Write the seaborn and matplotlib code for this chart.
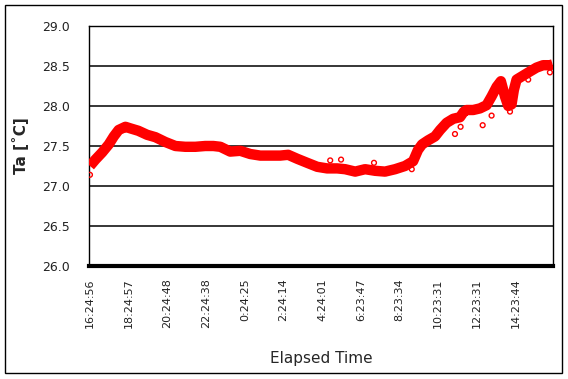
import numpy as np
import pandas as pd
import matplotlib
matplotlib.use("Agg")
import matplotlib.pyplot as plt
from matplotlib.patches import Rectangle
import seaborn as sns

# elapsed hours since 16:24:56 and air temperature
hours = [0.00, 0.28, 0.63, 0.97, 1.23, 1.48, 1.83, 2.09, 2.50, 2.95, 3.38, 3.89,
         4.41, 4.92, 5.44, 5.95, 6.37, 6.73, 7.24, 7.76, 8.27, 8.79, 9.30, 9.82,
         10.23, 10.70, 11.21, 11.73, 12.24, 12.76, 13.17, 13.69, 14.20, 14.72, 15.23,
         15.75, 16.26, 16.68, 16.93, 17.14, 17.45, 17.81, 18.07, 18.41, 18.75, 19.10,
         19.30, 19.44, 19.78, 20.13, 20.47, 20.73, 20.99, 21.21, 21.42, 21.59, 21.76,
         21.88, 22.02, 22.36, 22.70, 23.05, 23.39, 23.74, 23.88]
temp = [27.25, 27.33, 27.42, 27.52, 27.62, 27.70, 27.74, 27.72, 27.69, 27.64, 27.61, 27.55,
        27.50, 27.49, 27.49, 27.50, 27.50, 27.49, 27.43, 27.44, 27.40, 27.38, 27.38, 27.38,
        27.39, 27.34, 27.29, 27.24, 27.22, 27.22, 27.21, 27.18, 27.21, 27.19, 27.18,
        27.21, 27.25, 27.31, 27.45, 27.52, 27.57, 27.62, 27.70, 27.79, 27.84, 27.86,
        27.93, 27.95, 27.95, 27.97, 28.01, 28.12, 28.24, 28.31, 28.12, 28.00, 28.02,
        28.20, 28.33, 28.38, 28.43, 28.48, 28.51, 28.51, 28.52]

# isolated samples below the main band
out_hours = [0.00, 12.40, 12.96, 14.66, 16.61, 18.84, 19.13, 20.27, 20.73, 21.68, 22.62, 23.74]
out_temp = [27.14, 27.32, 27.33, 27.29, 27.21, 27.65, 27.74, 27.76, 27.88, 27.93, 28.33, 28.42]

tick_labels = ["16:24:56", "18:24:57", "20:24:48", "22:24:38", "0:24:25", "2:24:14",
               "4:24:01", "6:23:47", "8:23:34", "10:23:31", "12:23:31", "14:23:44"]

def to_hours(label, start="16:24:56"):
    h, m, s = map(int, label.split(":"))
    h0, m0, s0 = map(int, start.split(":"))
    diff = (h * 3600 + m * 60 + s) - (h0 * 3600 + m0 * 60 + s0)
    return (diff % 86400) / 3600.0

tick_pos = [to_hours(t) for t in tick_labels]

df = pd.DataFrame({"hours": hours, "temp": temp})
df_out = pd.DataFrame({"hours": out_hours, "temp": out_temp})

sns.set_style("white")
plt.rcParams["font.family"] = ["DejaVu Sans"]

fig = plt.figure(figsize=(5.68, 3.79), dpi=100)
ax = fig.add_axes([89 / 568, 1 - 266 / 379, 464 / 568, 240 / 379])

sns.lineplot(data=df, x="hours", y="temp", ax=ax, color="#ff0000", linewidth=7.5,
             solid_capstyle="butt", zorder=3)
sns.scatterplot(data=df_out, x="hours", y="temp", ax=ax, s=12, facecolor="none",
                edgecolor="#ff0000", linewidth=1.0, zorder=3)

ax.set_ylim(26.0, 29.0)
ax.set_xlim(-0.05, 23.9)
ax.set_yticks(np.arange(26.0, 29.01, 0.5))
ax.set_yticklabels([f"{v:.1f}" for v in np.arange(26.0, 29.01, 0.5)], fontsize=9, color="#222222")
ax.set_xticks(tick_pos)
ax.set_xticklabels(tick_labels, rotation=90, fontsize=8, color="#222222")
ax.tick_params(axis="both", length=0)
ax.tick_params(axis="y", pad=14)
ax.tick_params(axis="x", pad=9)

ax.yaxis.grid(True, color="black", linewidth=1.1)
ax.xaxis.grid(False)
ax.set_axisbelow(True)
for side in ["left", "right", "top"]:
    ax.spines[side].set_color("black")
    ax.spines[side].set_linewidth(1.0)
ax.spines["bottom"].set_color("black")
ax.spines["bottom"].set_linewidth(3.0)

ax.set_ylabel("Ta [˚C]", fontsize=11, fontweight="bold", labelpad=9)
ax.set_xlabel("Elapsed Time", fontsize=11, labelpad=16)

fig.add_artist(Rectangle((5 / 568, 6 / 379), 557 / 568, 368 / 379, transform=fig.transFigure,
                         fill=False, edgecolor="black", linewidth=1.0))

fig.savefig("out.png", dpi=100)
